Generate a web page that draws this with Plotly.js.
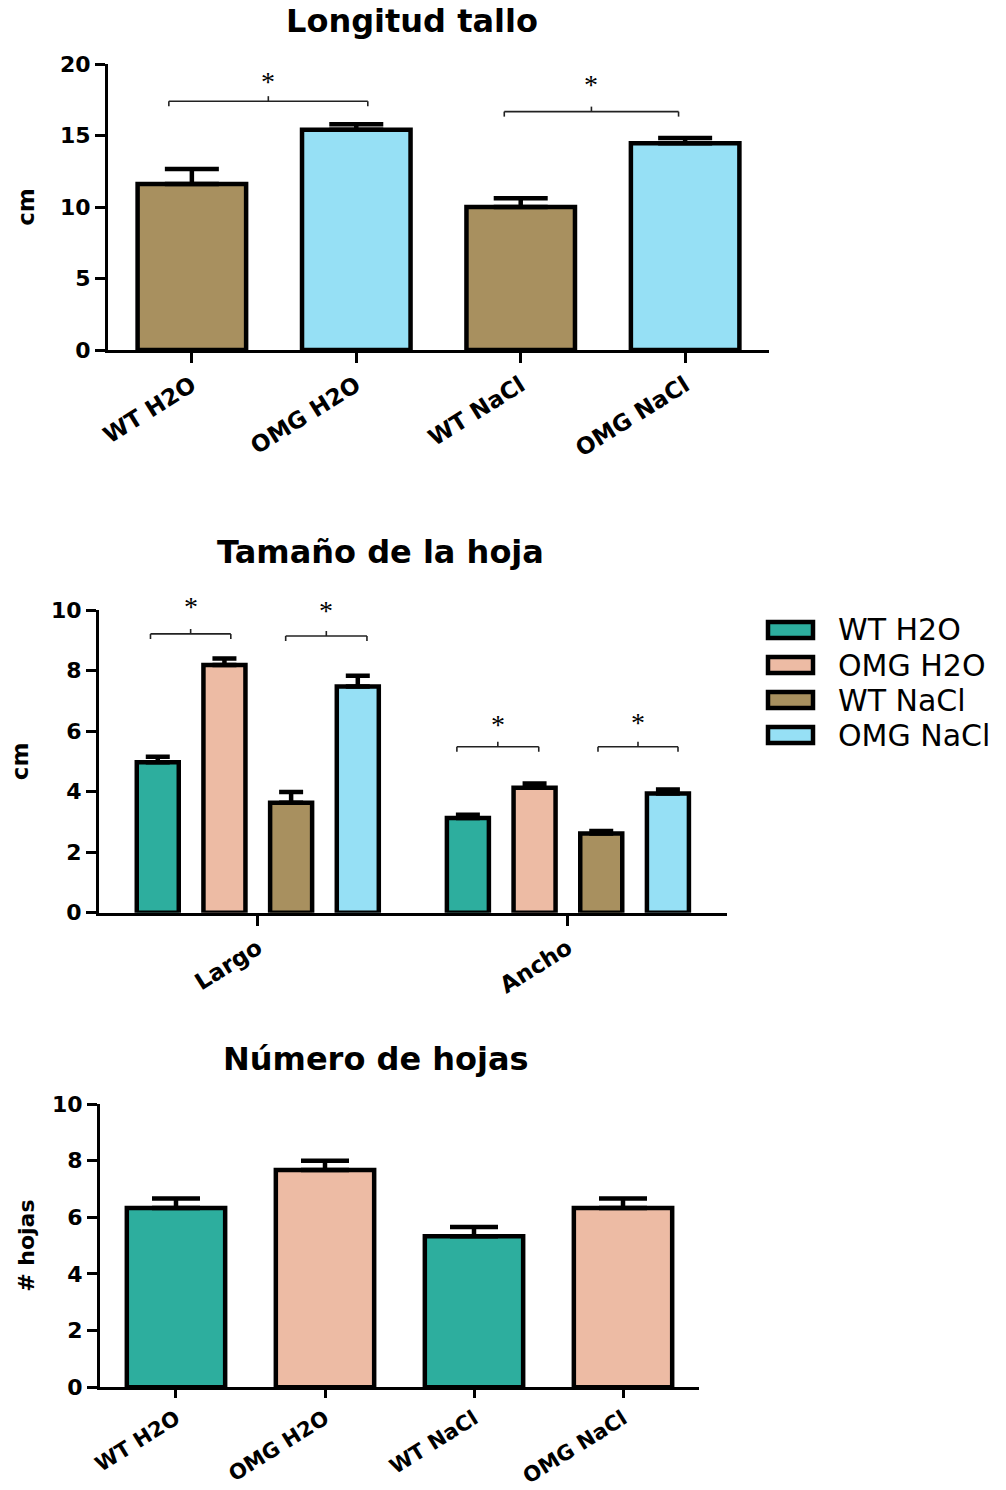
<!DOCTYPE html>
<html>
<head>
<meta charset="utf-8">
<script src="https://cdn.plot.ly/plotly-3.0.1.min.js"></script>
<style>
  html, body { margin: 0; padding: 0; background: #ffffff; }
  #chart { width: 1006px; height: 1490px; }
</style>
</head>
<body>
<div id="chart"></div>
<script>
// ---- data ----
const groups = ["WT H2O", "OMG H2O", "WT NaCl", "OMG NaCl"];

// Longitud tallo (cm), mean and standard error
const stemMean = [11.6, 15.4, 10.0, 14.45];
const stemSE = [1.05, 0.38, 0.62, 0.37];

// Tamaño de la hoja (cm)
const leafDims = ["Largo", "Ancho"];
const leafWtH2O = [4.97, 3.13];
const leafWtH2OSE = [0.18, 0.11];
const leafOmgH2O = [8.18, 4.13];
const leafOmgH2OSE = [0.22, 0.14];
const leafWtNaCl = [3.63, 2.62];
const leafWtNaClSE = [0.36, 0.08];
const leafOmgNaCl = [7.47, 3.94];
const leafOmgNaClSE = [0.36, 0.13];

// Número de hojas
const leafCount = [6.33, 7.67, 5.33, 6.33];
const leafCountSE = [0.33, 0.33, 0.33, 0.33];

// significance brackets: from / to (category index), bracket height, star height
const stemSig = [[-0.14, 1.07, 17.4, 18.75], [1.9, 2.96, 16.67, 18.55]];
const leafSig = [[-0.346, -0.087, 9.21, 10.1], [0.09, 0.352, 9.14, 10.0],
                 [0.642, 0.906, 5.48, 6.22], [1.097, 1.355, 5.48, 6.27]];

// ---- styling ----
const teal = "#2DAE9E", salmon = "#EDBBA4", brown = "#A8905F", sky = "#96E0F5";
const seriesColors = [teal, salmon, brown, sky];
const outline = { color: "#000", width: 4.5 };
const boldFont = (size) => ({ family: "DejaVu Sans", size: size, color: "#000", weight: "bold" });

function errUp(se, w) {
  return { type: "data", symmetric: false, array: se, arrayminus: se.map(() => 0),
           color: "#000", thickness: 4.5, width: w };
}

const traces = [];

// top chart
traces.push({
  type: "bar", x: groups, y: stemMean, xaxis: "x", yaxis: "y", width: 0.66,
  marker: { color: [brown, sky, brown, sky], line: outline },
  error_y: errUp(stemSE, 27)
});

// middle chart, grouped
const leafSeries = [[leafWtH2O, leafWtH2OSE], [leafOmgH2O, leafOmgH2OSE],
                    [leafWtNaCl, leafWtNaClSE], [leafOmgNaCl, leafOmgNaClSE]];
leafSeries.forEach((s, i) => {
  traces.push({
    type: "bar", name: groups[i], x: leafDims, y: s[0], xaxis: "x2", yaxis: "y2",
    marker: { color: seriesColors[i], line: outline },
    error_y: errUp(s[1], 12)
  });
});

// bottom chart
traces.push({
  type: "bar", x: groups, y: leafCount, xaxis: "x3", yaxis: "y3", width: 0.66,
  marker: { color: [teal, salmon, teal, salmon], line: outline },
  error_y: errUp(leafCountSE, 24)
});

const W = 1006, H = 1490;
const px = (v) => v / W;          // horizontal pixel -> paper
const py = (v) => 1 - v / H;      // vertical pixel -> paper

const axisBase = {
  showline: true, linewidth: 3, linecolor: "#000", mirror: false,
  ticks: "outside", ticklen: 10, tickwidth: 3, tickcolor: "#000",
  showgrid: false, zeroline: false, tickfont: boldFont(22), fixedrange: true
};

const yDom1 = [py(350), py(64)], yDom2 = [py(912.7), py(610)], yDom3 = [py(1387.3), py(1104)];
const yRange1 = [0, 20], yRange2 = [0, 10], yRange3 = [0, 10];

const shapes = [];
const annotations = [];

// value on a y axis -> paper fraction (lets stars sit above the axis range)
const toPaper = (v, dom, rng) => dom[0] + (v - rng[0]) / (rng[1] - rng[0]) * (dom[1] - dom[0]);

function addBrackets(list, xr, yr, dom, rng) {
  list.forEach(b => {
    const line = { color: "#222", width: 1.6 };
    const mid = (b[0] + b[1]) / 2;
    shapes.push({ type: "line", xref: xr, yref: yr, x0: b[0], x1: b[1], y0: b[2], y1: b[2], line });
    [b[0], b[1]].forEach(xe => shapes.push({
      type: "line", xref: xr, yref: yr, x0: xe, x1: xe,
      ysizemode: "pixel", yanchor: b[2], y0: 0, y1: -5, line }));
    shapes.push({ type: "line", xref: xr, yref: yr, x0: mid, x1: mid,
      ysizemode: "pixel", yanchor: b[2], y0: 0, y1: 5, line });
    annotations.push({ xref: xr, yref: "paper", x: mid, y: toPaper(b[3], dom, rng), text: "*",
      showarrow: false, yanchor: "middle", font: { family: "Liberation Serif", size: 28, color: "#000" } });
  });
}
addBrackets(stemSig, "x", "y", yDom1, yRange1);
addBrackets(leafSig, "x2", "y2", yDom2, yRange2);

// chart titles
[["Longitud tallo", 412, 21], ["Tamaño de la hoja", 380, 552], ["Número de hojas", 376, 1059]].forEach(t => {
  annotations.push({ xref: "paper", yref: "paper", x: px(t[1]), y: py(t[2]), text: t[0],
    showarrow: false, xanchor: "center", yanchor: "middle", font: boldFont(32) });
});

// legend for the grouped chart
groups.forEach((g, i) => {
  const cy = 630 + i * 35;
  shapes.push({ type: "rect", xref: "paper", yref: "paper",
    x0: px(768), x1: px(813), y0: py(cy + 8), y1: py(cy - 8),
    fillcolor: seriesColors[i], line: { color: "#000", width: 4.5 } });
  annotations.push({ xref: "paper", yref: "paper", x: px(836), y: py(cy), text: g,
    showarrow: false, xanchor: "left", yanchor: "middle",
    font: { family: "DejaVu Sans", size: 30, color: "#000" } });
});

const layout = {
  width: W, height: H, margin: { l: 0, r: 0, t: 0, b: 0 },
  paper_bgcolor: "#fff", plot_bgcolor: "#fff", showlegend: false,
  barmode: "group", bargap: 0.14, bargroupgap: 0.37,
  xaxis: Object.assign({}, axisBase, { domain: [px(108), px(769)], anchor: "y",
    type: "category", range: [-0.51, 3.51], tickangle: -32, tickfont: boldFont(23) }),
  yaxis: Object.assign({}, axisBase, { domain: yDom1, anchor: "x",
    range: yRange1, dtick: 5, title: { text: "cm", font: boldFont(23), standoff: 19 } }),
  xaxis2: Object.assign({}, axisBase, { domain: [px(99), px(727)], anchor: "y2",
    type: "category", range: [-0.512, 1.513], tickangle: -32, tickfont: boldFont(23) }),
  yaxis2: Object.assign({}, axisBase, { domain: yDom2, anchor: "x2",
    range: yRange2, dtick: 2, title: { text: "cm", font: boldFont(23), standoff: 16 } }),
  xaxis3: Object.assign({}, axisBase, { domain: [px(100), px(699)], anchor: "y3",
    type: "category", range: [-0.51, 3.51], tickangle: -32, ticklen: 8, tickfont: boldFont(21) }),
  yaxis3: Object.assign({}, axisBase, { domain: yDom3, anchor: "x3",
    range: yRange3, dtick: 2, title: { text: "# hojas", font: boldFont(22), standoff: 12 } }),
  shapes: shapes,
  annotations: annotations
};

Plotly.newPlot("chart", traces, layout, { staticPlot: true, displayModeBar: false });
</script>
</body>
</html>
